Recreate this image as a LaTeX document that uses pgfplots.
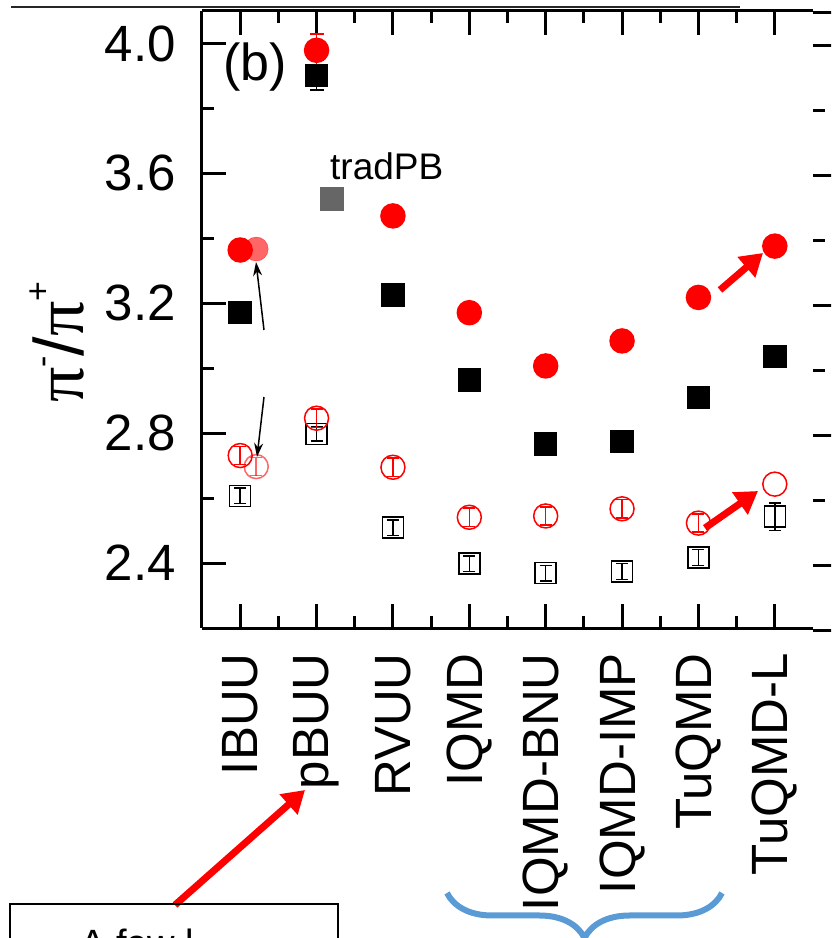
\documentclass[border=0pt]{standalone}
\usepackage{pgfplots}
\pgfplotsset{compat=1.18}
\usepackage{fontspec}
\setmainfont{Liberation Sans}
\newfontfamily\serifpi{Liberation Serif}
\usetikzlibrary{decorations.pathreplacing, arrows.meta}
\definecolor{bracecol}{RGB}{91,155,213}
\definecolor{tradgray}{RGB}{102,102,102}

\begin{document}
\begin{tikzpicture}[x=1pt,y=1pt]
\path[use as bounding box] (0,0) rectangle (831,938);
\clip (0,0) rectangle (831,938);

% neighbouring panel frame (c), cut by the page edge
\begin{axis}[
  at={(813pt,307.5pt)}, anchor=south west,
  width=200pt, height=617.5pt, scale only axis,
  xmin=0, xmax=1, ymin=2.2, ymax=4.1,
  separate axis lines,
  y axis line style={draw=none},
  x axis line style={line width=3pt},
  xtick=\empty,
  ytick={2.4,2.8,3.2,3.6,4.0}, minor y tick num=1,
  yticklabels=\empty,
  major tick length=24pt, minor tick length=12pt,
  tick style={line width=3pt, black},
]
\end{axis}

\begin{axis}[
  at={(202pt,310pt)}, anchor=south west,
  width=611pt, height=617pt, scale only axis,
  xmin=-0.5, xmax=7.5, ymin=2.2, ymax=4.1,
  axis x line*=box, axis y line*=left,
  axis line style={line width=3pt},
  xtick={0,1,2,3,4,5,6,7}, minor x tick num=1,
  xticklabels={IBUU,pBUU,RVUU,IQMD,IQMD-BNU,IQMD-IMP,TuQMD\hspace{47pt},TuQMD-L\hspace{-10pt}},
  ytick={2.4,2.8,3.2,3.6,4.0}, minor y tick num=1,
  major tick length=24pt, minor tick length=12pt,
  tick style={line width=3pt, black},
  /pgf/number format/assume math mode=true,
  ticklabel style={font=\fontsize{51}{55}\selectfont},
  yticklabel style={/pgf/number format/.cd, fixed, fixed zerofill, precision=1, /tikz/.cd, inner sep=0pt, xshift=-26pt},
  xticklabel style={yshift=-25pt, rotate=90, anchor=east, inner sep=0pt},
  ylabel={{\serifpi π}\raisebox{30pt}{\fontsize{34}{34}\selectfont -}/{\serifpi π}\raisebox{34pt}{\fontsize{34}{34}\selectfont +}},
  ylabel style={font=\fontsize{70}{70}\selectfont, anchor=center, inner sep=0pt, at={(axis description cs:-0.237,0.4635)}},
  clip=false,
  ebar/.style={error bars/.cd, y dir=both, y explicit,
    error bar style={line width=1.5pt},
    error mark options={rotate=90, mark size=#1, line width=1.5pt}},
]
% open black squares
\addplot[only marks, mark=square, mark size=10.5pt, black, line width=1.5pt, ebar=6pt]
  coordinates {(0,2.607)+-(0,0.024) (1,2.798)+-(0,0.022) (2,2.509)+-(0,0.024) (3,2.398)+-(0,0.024)
               (4,2.369)+-(0,0.024) (5,2.374)+-(0,0.024) (6,2.417)+-(0,0.024) (7,2.543)+-(0,0.042)};
% filled black squares
\addplot[only marks, mark=square*, mark size=11pt, black, line width=1.5pt, ebar=7pt]
  coordinates {(0,3.172)+-(0,0) (1,3.902)+-(0,0.045) (2,3.226)+-(0,0) (3,2.964)+-(0,0)
               (4,2.767)+-(0,0.012) (5,2.774)+-(0,0.012) (6,2.910)+-(0,0) (7,3.036)+-(0,0)};
% tradPB grey square
\addplot[only marks, mark=square*, mark size=11.5pt, tradgray]
  coordinates {(1.2,3.523)};
% open red circles
\addplot[only marks, mark=o, mark size=12pt, red, line width=1.5pt, ebar=6pt]
  coordinates {(0,2.731)+-(0,0.028) (1,2.846)+-(0,0.028) (2,2.695)+-(0,0.028) (3,2.541)+-(0,0.028)
               (4,2.545)+-(0,0.028) (5,2.567)+-(0,0.028) (6,2.523)+-(0,0.028)};
\addplot[only marks, mark=o, mark size=12pt, red, line width=1.5pt]
  coordinates {(7,2.643)};
% filled red circles
\addplot[only marks, mark=*, mark size=12pt, red, line width=1.5pt, ebar=7pt]
  coordinates {(0,3.364)+-(0,0) (1,3.979)+-(0,0.05) (2,3.469)+-(0,0) (3,3.171)+-(0,0)
               (4,3.007)+-(0,0) (5,3.084)+-(0,0) (6,3.218)+-(0,0) (7,3.376)+-(0,0)};
% lighter IBUU points
\addplot[only marks, mark=*, mark size=12pt, red, opacity=0.6]
  coordinates {(0.21,3.367)};
\addplot[only marks, mark=o, mark size=12pt, red, line width=1.5pt, opacity=0.6, ebar=6pt]
  coordinates {(0.21,2.697)+-(0,0.028)};
\end{axis}

% annotations
\draw[line width=2pt, black!85] (11,931) -- (740,931);
\node[anchor=center, inner sep=0pt, font=\fontsize{52}{56}\selectfont] at (255,871) {(b)};
\node[anchor=base west, inner sep=0pt, font=\fontsize{37}{40}\selectfont] at (330,758) {tradPB};
\draw[line width=1.5pt, -{Stealth[length=14pt, width=9pt]}] (264,608) -- (256,676);
\draw[line width=1.5pt, -{Stealth[length=14pt, width=9pt]}] (264,541) -- (257,481);
\draw[red, line width=7pt, -{Triangle[length=22pt, width=26pt]}] (720,648) -- (763,685);
\draw[red, line width=7pt, -{Triangle[length=22pt, width=26pt]}] (705,410) -- (758,447);
\draw[red, line width=7pt, -{Triangle[length=22pt, width=26pt]}] (175,33) -- (305,148);
\draw[line width=2pt] (10,-30) rectangle (338,34);
\node[anchor=base west, inner sep=0pt, font=\fontsize{38}{40}\selectfont] at (80,-19) {A few l};
\draw[bracecol, line width=6pt, decorate, decoration={brace, amplitude=45pt}] (722,45) -- (447,45);
\end{tikzpicture}
\end{document}
